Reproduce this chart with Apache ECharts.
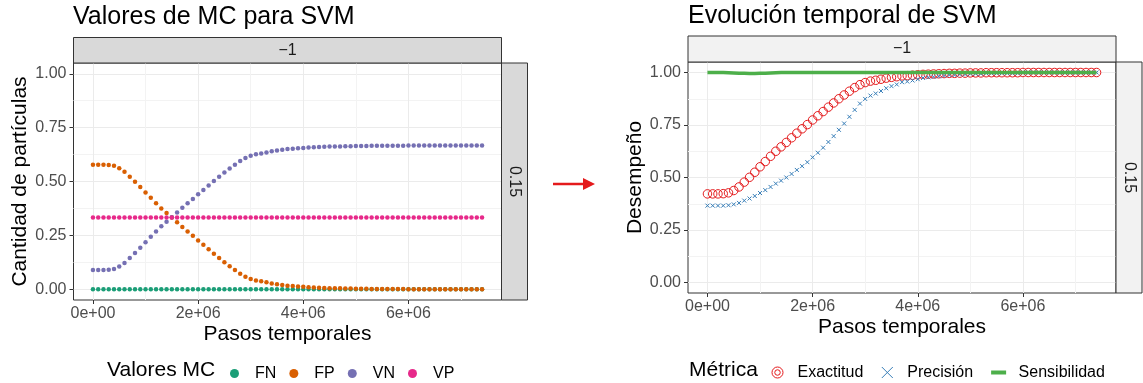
<!DOCTYPE html>
<html>
<head>
<meta charset="utf-8">
<script src="https://cdn.jsdelivr.net/npm/echarts@6/dist/echarts.min.js"></script>
<style>
  html, body { margin: 0; padding: 0; background: #fff; }
  #main { width: 1143px; height: 383px; }
</style>
</head>
<body>
<div id="main"></div>
<script>
// pasos temporales (eje x de ambos paneles)
const pasos = [
  0, 1e5, 2e5, 3e5, 4e5, 5e5, 6e5, 7e5, 8e5, 9e5,
  10e5, 11e5, 12e5, 13e5, 14e5, 15e5, 16e5, 17e5, 18e5, 19e5,
  20e5, 21e5, 22e5, 23e5, 24e5, 25e5, 26e5, 27e5, 28e5, 29e5,
  30e5, 31e5, 32e5, 33e5, 34e5, 35e5, 36e5, 37e5, 38e5, 39e5,
  40e5, 41e5, 42e5, 43e5, 44e5, 45e5, 46e5, 47e5, 48e5, 49e5,
  50e5, 51e5, 52e5, 53e5, 54e5, 55e5, 56e5, 57e5, 58e5, 59e5,
  60e5, 61e5, 62e5, 63e5, 64e5, 65e5, 66e5, 67e5, 68e5, 69e5,
  70e5, 71e5, 72e5, 73e5, 74e5
];

// panel izquierdo: valores de la matriz de confusion
const fn = [
  0, 0, 0, 0, 0, 0, 0, 0, 0, 0,
  0, 0, 0, 0, 0, 0, 0, 0, 0, 0,
  0, 0, 0, 0, 0, 0, 0, 0, 0, 0,
  0, 0, 0, 0, 0, 0, 0, 0, 0, 0,
  0, 0, 0, 0, 0, 0, 0, 0, 0, 0,
  0, 0, 0, 0, 0, 0, 0, 0, 0, 0,
  0, 0, 0, 0, 0, 0, 0, 0, 0, 0,
  0, 0, 0, 0, 0
];
const fp = [
  0.578, 0.578, 0.578, 0.577, 0.573, 0.562, 0.545, 0.522, 0.499, 0.475,
  0.449, 0.424, 0.399, 0.375, 0.354, 0.333, 0.311, 0.289, 0.268, 0.248,
  0.226, 0.206, 0.186, 0.165, 0.145, 0.125, 0.107, 0.089, 0.072, 0.058,
  0.048, 0.041, 0.037, 0.032, 0.027, 0.023, 0.020, 0.016, 0.015, 0.013,
  0.011, 0.009, 0.008, 0.007, 0.006, 0.005, 0.004, 0.004, 0.003, 0.003,
  0.002, 0.002, 0.002, 0.001, 0.001, 0.001, 0.001, 0.001, 0.001, 0.001,
  0, 0, 0, 0, 0, 0, 0, 0, 0, 0,
  0, 0, 0, 0, 0
];
const vn = [
  0.089, 0.089, 0.089, 0.090, 0.094, 0.105, 0.122, 0.145, 0.168, 0.192,
  0.218, 0.243, 0.268, 0.292, 0.313, 0.334, 0.356, 0.378, 0.399, 0.419,
  0.441, 0.461, 0.481, 0.502, 0.522, 0.542, 0.560, 0.578, 0.595, 0.609,
  0.619, 0.626, 0.630, 0.635, 0.640, 0.644, 0.647, 0.651, 0.652, 0.654,
  0.656, 0.658, 0.659, 0.660, 0.661, 0.662, 0.663, 0.663, 0.664, 0.664,
  0.665, 0.665, 0.665, 0.666, 0.666, 0.666, 0.666, 0.666, 0.666, 0.666,
  0.667, 0.667, 0.667, 0.667, 0.667, 0.667, 0.667, 0.667, 0.667, 0.667,
  0.667, 0.667, 0.667, 0.667, 0.667
];
const vp = [
  0.333, 0.333, 0.333, 0.333, 0.333, 0.333, 0.333, 0.333, 0.333, 0.333,
  0.333, 0.333, 0.333, 0.333, 0.333, 0.333, 0.333, 0.333, 0.333, 0.333,
  0.333, 0.333, 0.333, 0.333, 0.333, 0.333, 0.333, 0.333, 0.333, 0.333,
  0.333, 0.333, 0.333, 0.333, 0.333, 0.333, 0.333, 0.333, 0.333, 0.333,
  0.333, 0.333, 0.333, 0.333, 0.333, 0.333, 0.333, 0.333, 0.333, 0.333,
  0.333, 0.333, 0.333, 0.333, 0.333, 0.333, 0.333, 0.333, 0.333, 0.333,
  0.333, 0.333, 0.333, 0.333, 0.333, 0.333, 0.333, 0.333, 0.333, 0.333,
  0.333, 0.333, 0.333, 0.333, 0.333
];

// panel derecho: metricas
const exactitud = [
  0.422, 0.422, 0.422, 0.423, 0.427, 0.438, 0.455, 0.478, 0.501, 0.525,
  0.551, 0.576, 0.601, 0.625, 0.646, 0.667, 0.689, 0.711, 0.732, 0.752,
  0.774, 0.794, 0.814, 0.835, 0.855, 0.875, 0.893, 0.911, 0.928, 0.942,
  0.952, 0.959, 0.963, 0.968, 0.973, 0.977, 0.980, 0.984, 0.985, 0.987,
  0.989, 0.991, 0.992, 0.993, 0.994, 0.995, 0.996, 0.996, 0.997, 0.997,
  0.998, 0.998, 0.998, 0.999, 0.999, 0.999, 0.999, 0.999, 0.999, 0.999,
  1, 1, 1, 1, 1, 1, 1, 1, 1, 1,
  1, 1, 1, 1, 1
];
const precision = [
  0.366, 0.366, 0.366, 0.366, 0.368, 0.372, 0.379, 0.390, 0.400, 0.412,
  0.426, 0.440, 0.455, 0.471, 0.485, 0.500, 0.517, 0.536, 0.554, 0.573,
  0.596, 0.618, 0.642, 0.669, 0.697, 0.727, 0.757, 0.789, 0.822, 0.852,
  0.874, 0.890, 0.900, 0.912, 0.925, 0.935, 0.943, 0.954, 0.957, 0.962,
  0.968, 0.974, 0.977, 0.979, 0.982, 0.985, 0.988, 0.988, 0.991, 0.991,
  0.994, 0.994, 0.994, 0.997, 0.997, 0.997, 0.997, 0.997, 0.997, 0.997,
  1, 1, 1, 1, 1, 1, 1, 1, 1, 1,
  1, 1, 1, 1, 1
];
const sensibilidad = [
  1, 1, 1, 1, 0.999, 0.998, 0.997, 0.996, 0.995, 0.995,
  0.996, 0.997, 0.998, 0.999, 1, 1, 1, 1, 1, 1,
  1, 1, 1, 1, 1, 1, 1, 1, 1, 1,
  1, 1, 1, 1, 1, 1, 1, 1, 1, 1,
  1, 1, 1, 1, 1, 1, 1, 1, 1, 1,
  1, 1, 1, 1, 1, 1, 1, 1, 1, 1,
  1, 1, 1, 1, 1, 1, 1, 1, 1, 1,
  1, 1, 1, 1, 1
];

const xMajor = [0, 2e6, 4e6, 6e6];
const xMinor = [1e6, 3e6, 5e6, 7e6];
const yMajor = [0, 0.25, 0.5, 0.75, 1];
const yMinor = [0.125, 0.375, 0.625, 0.875];

const font = "'Liberation Sans', Arial, Helvetica, sans-serif";
const xMin = -370000, xMax = 7770000;
const yMin = -0.05, yMax = 1.05;

function pares(ys) {
  return pasos.map((x, i) => [x, ys[i]]);
}

function fmtX(v) {
  if (v === 0) return '0e+00';
  return (v / 1e6) + 'e+06';
}

function ejeX(g) {
  return {
    type: 'value', gridIndex: g, min: xMin, max: xMax, position: 'bottom',
    axisLine: {show: false, onZero: false},
    axisTick: {show: true, length: 4, customValues: xMajor, lineStyle: {color: '#333', width: 1}},
    axisLabel: {customValues: xMajor, formatter: fmtX, color: '#4D4D4D', fontSize: 16, fontFamily: font, margin: 6},
    splitLine: {show: true, lineStyle: {color: '#EBEBEB', width: 1}},
    name: 'Pasos temporales', nameLocation: 'middle', nameGap: 24, nameMoveOverlap: false,
    nameTextStyle: {fontSize: 21, color: '#000', fontFamily: font}
  };
}

function ejeXMenor(g) {
  return {
    type: 'value', gridIndex: g, min: xMin, max: xMax,
    axisLine: {show: false, onZero: false},
    axisTick: {show: false, customValues: xMinor},
    axisLabel: {show: false, customValues: xMinor},
    splitLine: {show: true, lineStyle: {color: '#F3F3F3', width: 1}}
  };
}

function ejeY(g, nombre, gap) {
  return {
    type: 'value', gridIndex: g, min: yMin, max: yMax, position: 'left',
    axisLine: {show: false, onZero: false},
    axisTick: {show: true, length: 4, customValues: yMajor, lineStyle: {color: '#333', width: 1}},
    axisLabel: {customValues: yMajor, formatter: v => v.toFixed(2), color: '#4D4D4D', fontSize: 16, fontFamily: font, margin: 7},
    splitLine: {show: true, lineStyle: {color: '#EBEBEB', width: 1}},
    name: nombre, nameLocation: 'middle', nameGap: gap, nameMoveOverlap: false,
    nameTextStyle: {fontSize: 21, color: '#000', fontFamily: font}
  };
}

function ejeYMenor(g) {
  return {
    type: 'value', gridIndex: g, min: yMin, max: yMax,
    axisLine: {show: false, onZero: false},
    axisTick: {show: false, customValues: yMinor},
    axisLabel: {show: false, customValues: yMinor},
    splitLine: {show: true, lineStyle: {color: '#F3F3F3', width: 1}}
  };
}

function franja(x, y, w, h, fill) {
  return {type: 'rect', shape: {x: x, y: y, width: w, height: h}, style: {fill: fill, stroke: '#333', lineWidth: 1}, z: 10};
}

function texto(t, x, y, size, color, rot) {
  return {
    type: 'text', x: x, y: y, rotation: rot || 0, z: 11,
    style: {text: t, fontSize: size, fontFamily: font, fill: color, align: 'center', verticalAlign: 'middle'}
  };
}

const chart = echarts.init(document.getElementById('main'));

const option = {
  animation: false,
  backgroundColor: '#fff',
  title: [
    {text: 'Valores de MC para SVM', left: 73, top: 5, padding: 0,
     textStyle: {fontSize: 25, fontWeight: 'normal', color: '#000', fontFamily: font}},
    {text: 'Evolución temporal de SVM', left: 688, top: 4, padding: 0,
     textStyle: {fontSize: 25, fontWeight: 'normal', color: '#000', fontFamily: font}}
  ],
  grid: [
    {left: 73.5, top: 63, width: 428, height: 237, show: true, backgroundColor: '#fff',
     borderColor: '#333', borderWidth: 1, outerBoundsMode: 'none', containLabel: false},
    {left: 688, top: 62, width: 428, height: 231, show: true, backgroundColor: '#fff',
     borderColor: '#333', borderWidth: 1, outerBoundsMode: 'none', containLabel: false}
  ],
  xAxis: [ejeX(0), ejeXMenor(0), ejeX(1), ejeXMenor(1)],
  yAxis: [
    ejeY(0, 'Cantidad de partículas', 43), ejeYMenor(0),
    ejeY(1, 'Desempeño', 42), ejeYMenor(1)
  ],
  legend: [
    {
      data: ['FN', 'FP', 'VN', 'VP'], left: 230, top: 365.5, padding: 0,
      icon: 'circle', itemWidth: 15, itemHeight: 9, itemGap: 13, selectedMode: false,
      textStyle: {fontSize: 16, color: '#000', fontFamily: font, padding: [0, 0, 0, 8]}
    },
    {
      data: [
        {name: 'Exactitud',
         icon: 'path://M0,6a6,6 0 1,0 12,0a6,6 0 1,0 -12,0M3,6a3,3 0 1,0 6,0a3,3 0 1,0 -6,0',
         itemStyle: {color: 'rgba(0,0,0,0)', borderColor: '#E41A1C', borderWidth: 1}},
        {name: 'Precisión', icon: 'path://M0,0L10,10M10,0L0,10',
         itemStyle: {color: 'rgba(0,0,0,0)', borderColor: '#377EB8', borderWidth: 1}},
        {name: 'Sensibilidad', icon: 'path://M0,0H15V4H0Z',
         itemStyle: {color: '#4DAF4A', borderWidth: 0}}
      ],
      left: 771.5, top: 364.5, padding: 0,
      itemWidth: 15, itemHeight: 11, itemGap: 18, selectedMode: false,
      textStyle: {fontSize: 16, color: '#000', fontFamily: font, padding: [0, 0, 0, 7.5]}
    }
  ],
  series: [
    {type: 'scatter', name: 'FN', xAxisIndex: 0, yAxisIndex: 0, data: pares(fn), symbolSize: 4.5, itemStyle: {color: '#1B9E77', opacity: 1}, silent: true},
    {type: 'scatter', name: 'FP', xAxisIndex: 0, yAxisIndex: 0, data: pares(fp), symbolSize: 4.5, itemStyle: {color: '#D95F02', opacity: 1}, silent: true},
    {type: 'scatter', name: 'VN', xAxisIndex: 0, yAxisIndex: 0, data: pares(vn), symbolSize: 4.5, itemStyle: {color: '#7570B3', opacity: 1}, silent: true},
    {type: 'scatter', name: 'VP', xAxisIndex: 0, yAxisIndex: 0, data: pares(vp), symbolSize: 4.5, itemStyle: {color: '#E7298A', opacity: 1}, silent: true},
    {type: 'scatter', name: 'Exactitud', xAxisIndex: 2, yAxisIndex: 2, data: pares(exactitud),
     symbol: 'circle', symbolSize: 8.5, silent: true,
     itemStyle: {color: 'rgba(0,0,0,0)', borderColor: '#E41A1C', borderWidth: 1, opacity: 1}},
    {type: 'line', name: 'Sensibilidad', xAxisIndex: 2, yAxisIndex: 2, data: pares(sensibilidad),
     symbol: 'none', showSymbol: false, silent: true,
     lineStyle: {color: '#4DAF4A', width: 3.5}, itemStyle: {color: '#4DAF4A'}},
    {type: 'scatter', name: 'Precisión', xAxisIndex: 2, yAxisIndex: 2, data: pares(precision),
     symbol: 'path://M0,0L10,10M10,0L0,10', symbolSize: 4, silent: true,
     itemStyle: {color: 'rgba(0,0,0,0)', borderColor: '#377EB8', borderWidth: 1, opacity: 1}}
  ],
  graphic: [
    franja(73.5, 37.5, 428, 25.5, '#D9D9D9'),
    franja(501.5, 63, 26, 237, '#D9D9D9'),
    texto('\u22121', 287.5, 50.5, 16, '#1A1A1A'),
    texto('0.15', 514.5, 181.5, 16, '#1A1A1A', -Math.PI / 2),
    franja(688, 36, 428, 26, '#F2F2F2'),
    franja(1116, 62, 26, 231, '#F2F2F2'),
    texto('\u22121', 902, 49, 16, '#1A1A1A'),
    texto('0.15', 1129, 177.5, 16, '#1A1A1A', -Math.PI / 2),
    {type: 'text', x: 107, y: 370, z: 11,
     style: {text: 'Valores MC', fontSize: 21, fontFamily: font, fill: '#000', align: 'left', verticalAlign: 'middle'}},
    {type: 'text', x: 689, y: 370, z: 11,
     style: {text: 'Métrica', fontSize: 21, fontFamily: font, fill: '#000', align: 'left', verticalAlign: 'middle'}},
    {type: 'line', shape: {x1: 553, y1: 184, x2: 585, y2: 184}, style: {stroke: '#E41A1C', lineWidth: 2.5}, z: 11},
    {type: 'polygon', shape: {points: [[583, 178], [595, 184], [583, 190]]}, style: {fill: '#E41A1C'}, z: 11}
  ]
};

chart.setOption(option);
</script>
</body>
</html>
